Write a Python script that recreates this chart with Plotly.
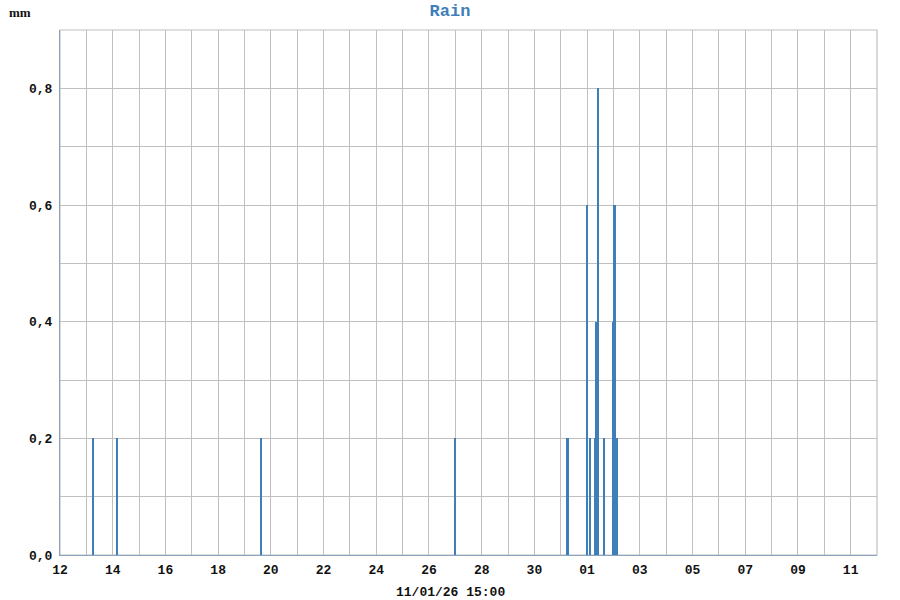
import plotly.graph_objects as go
from datetime import datetime, timedelta

# Rain events (hour timestamps) and amounts in mm
times = [
    "2025-12-13 06:00", "2025-12-14 04:00", "2025-12-19 15:00", "2025-12-27 00:00",
    "2025-12-31 06:00", "2025-12-31 07:00",
    "2026-01-01 00:00", "2026-01-01 03:00", "2026-01-01 07:00", "2026-01-01 08:00",
    "2026-01-01 10:00", "2026-01-01 16:00",
    "2026-01-02 00:00", "2026-01-02 01:00", "2026-01-02 02:00", "2026-01-02 03:00",
]
rain = [0.2, 0.2, 0.2, 0.2,
        0.2, 0.2,
        0.6, 0.2, 0.2, 0.4,
        0.8, 0.2,
        0.4, 0.6, 0.6, 0.2]

start = datetime(2025, 12, 12)
days = [start + timedelta(days=i) for i in range(32)]
day_labels = [d.strftime("%d") if i % 2 == 0 else "" for i, d in enumerate(days)]
y_vals = [round(0.1 * i, 1) for i in range(10)]
y_labels = [f"{v:.1f}".replace(".", ",") if i % 2 == 0 else "" for i, v in enumerate(y_vals)]

color = "#3f7fb9"
font_family = "Liberation Mono, DejaVu Sans Mono, monospace"

fig = go.Figure(go.Bar(
    x=times, y=rain, width=3600000 * 1.3,
    marker=dict(color=color, line=dict(width=0)),
))

fig.update_layout(
    width=900, height=600,
    margin=dict(l=60, r=23, t=30, b=45, autoexpand=False),
    paper_bgcolor="white", plot_bgcolor="white",
    showlegend=False, bargap=0,
    title=dict(text="Rain", x=0.5, xanchor="center", y=1 - 10 / 600, yanchor="middle",
               font=dict(family=font_family, size=17, color=color, weight="bold")),
    font=dict(family=font_family, size=13, color="#111111", weight="bold"),
)

fig.update_xaxes(
    type="date", range=[days[0], days[-1]], automargin=False,
    tickmode="array", tickvals=days, ticktext=day_labels,
    showgrid=True, gridcolor="#c0c0c0", gridwidth=1.2,
    showline=True, linecolor="#8aa3bf", linewidth=1, mirror=False,
    ticks="", ticklabelstandoff=2,
    zeroline=False,
)
fig.update_yaxes(
    range=[0, 0.9], tickmode="array", tickvals=y_vals, ticktext=y_labels,
    automargin=False,
    showgrid=True, gridcolor="#c0c0c0", gridwidth=1.2,
    showline=True, linecolor="#8aa3bf", linewidth=1,
    ticks="", zeroline=False, ticklabelstandoff=4,
)

# top and right border
fig.add_shape(type="rect", xref="paper", yref="paper", x0=0, y0=0, x1=1, y1=1,
              line=dict(color="#c0c0c0", width=1.2), layer="below")

fig.add_annotation(text="mm", xref="paper", yref="paper", x=(20 - 60) / 817, y=1 + 18 / 525,
                   xanchor="center", yanchor="middle", showarrow=False,
                   font=dict(family="Liberation Serif, serif", size=13, color="#111111", weight="bold"))

fig.add_annotation(text="11/01/26 15:00", xref="paper", yref="paper", x=(450 - 60) / 817,
                   y=-37 / 525, xanchor="center", yanchor="middle", showarrow=False,
                   font=dict(family=font_family, size=13, color="#111111", weight="bold"))

fig.write_html("out.html", config={"displayModeBar": False},
               post_script="document.body.style.margin='0';")
